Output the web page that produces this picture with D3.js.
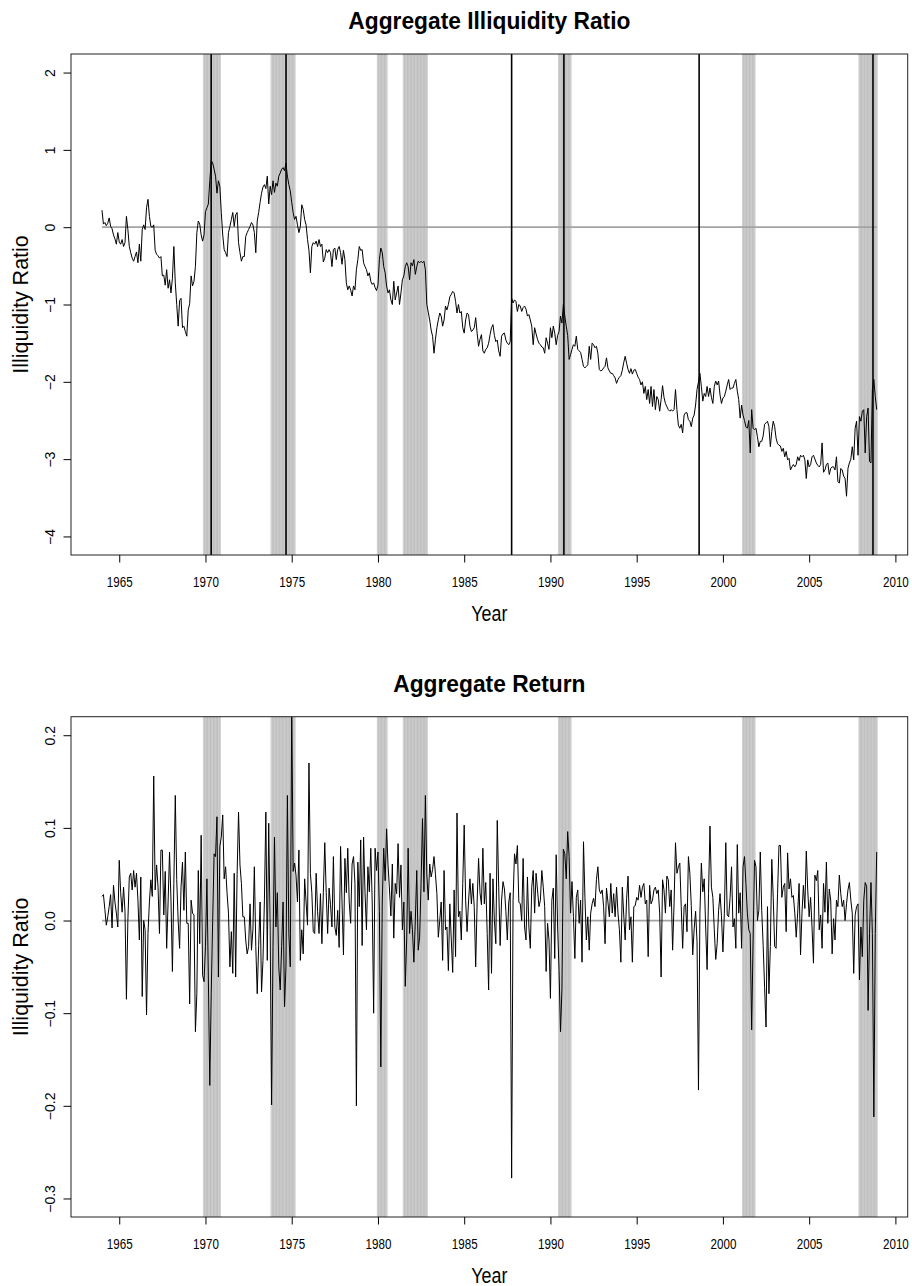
<!DOCTYPE html>
<html>
<head>
<meta charset="utf-8">
<script src="https://cdn.jsdelivr.net/npm/d3@7"></script>
<style>
  body { margin: 0; background: #fff; }
  svg text { font-family: "Liberation Sans", Arial, Helvetica, sans-serif; }
</style>
</head>
<body>
<svg id="chart" width="912" height="1286"></svg>
<script>
// monthly series, first value is Jan 1964
const startYear = 1964;

// aggregate illiquidity ratio, one row per year
const illiq = [
  .22,.04,.06,.02,.05,.12,.01,-.02,-.1,-.15,-.22,-.07,            // 1964
  -.19,-.22,-.16,-.25,-.2,.14,-.03,-.25,-.33,-.4,-.44,-.38,       // 1965
  -.32,-.46,-.22,-.44,-.03,.03,-.03,.25,.36,.14,.01,0,            // 1966
  .03,-.3,-.35,-.37,-.4,-.38,-.63,-.62,-.75,-.55,-.79,-.68,       // 1967
  -.85,-.66,-.25,-.72,-1.0,-1.28,-.95,-.92,-1.3,-1.28,-1.35,-1.41,// 1968
  -1.07,-.99,-.63,-.76,-.7,-.51,-.07,.08,.04,-.1,-.18,-.1,        // 1969
  .2,.25,.3,.6,.86,.83,.75,.66,.44,.6,.53,.19,                    // 1970
  -.1,-.29,-.33,-.38,-.07,.01,.1,.19,.01,.16,.19,-.2,             // 1971
  -.33,-.44,-.38,-.38,-.12,-.07,-.03,.01,.06,.03,-.07,-.33,       // 1972
  .08,.19,.32,.44,.52,.55,.5,.66,.3,.53,.42,.6,                   // 1973
  .45,.57,.53,.66,.7,.75,.77,.73,.83,.66,.55,.47,                 // 1974
  .32,.19,.1,.14,.03,-.07,.01,.29,.23,.1,.03,-.16,                // 1975
  -.3,-.59,-.25,-.2,-.22,-.18,-.25,-.16,-.25,-.22,-.45,-.4,       // 1976
  -.29,-.33,-.29,-.33,-.51,-.29,-.27,-.42,-.29,-.25,-.33,-.48,    // 1977
  -.3,-.42,-.72,-.81,-.76,-.81,-.89,-.76,-.81,-.55,-.42,-.25,     // 1978
  -.3,-.29,-.46,-.51,-.55,-.63,-.59,-.7,-.74,-.72,-.78,-.82,      // 1979
  -.75,-.42,-.27,-.33,-.51,-.59,-.76,-.85,-.81,-.94,-1.0,-.7,     // 1980
  -.94,-.85,-.76,-1.0,-.85,-.68,-.63,-.51,-.46,-.51,-.68,-.46,    // 1981
  -.5,-.42,-.61,-.51,-.44,-.46,-.44,-.46,-.44,-.55,-1.0,-1.1,     // 1982
  -1.2,-1.33,-1.41,-1.63,-1.45,-1.3,-1.2,-1.11,-1.15,-1.28,-1.2,-1.02, // 1983
  -1.07,-1.0,-.9,-.87,-.83,-.85,-.96,-1.11,-1.0,-1.11,-1.09,-1.3, // 1984
  -1.37,-1.2,-1.11,-1.13,-1.28,-1.35,-1.33,-1.3,-1.17,-1.37,-1.54,-1.45, // 1985
  -1.39,-1.6,-1.63,-1.58,-1.56,-1.5,-1.39,-1.3,-1.26,-1.4,-1.48,-1.46,   // 1986
  -1.6,-1.67,-1.41,-1.38,-1.37,-1.46,-1.5,-1.52,-1.48,-.92,-.98,-.94,    // 1987
  -.96,-1.09,-1.0,-1.02,-1.09,-1.04,-1.02,-1.06,-1.15,-1.13,-1.2,-1.28,  // 1988
  -1.52,-1.3,-1.38,-1.45,-1.5,-1.52,-1.55,-1.56,-1.63,-1.43,-1.5,-1.58,  // 1989
  -1.3,-1.43,-1.28,-1.37,-1.52,-1.4,-1.35,-1.15,-1.24,-1.0,-1.15,-1.28,  // 1990
  -1.4,-1.71,-1.65,-1.58,-1.52,-1.54,-1.41,-1.58,-1.6,-1.62,-1.71,-1.8,  // 1991
  -1.82,-1.8,-1.78,-1.54,-1.71,-1.5,-1.52,-1.56,-1.54,-1.63,-1.84,-1.86, // 1992
  -1.85,-1.82,-1.8,-1.69,-1.82,-1.86,-1.89,-1.89,-1.92,-1.95,-2.02,-1.97,// 1993
  -1.94,-1.92,-1.85,-1.75,-1.67,-1.76,-1.84,-1.89,-1.83,-1.9,-1.85,-1.84,// 1994
  -1.89,-1.94,-1.97,-2.04,-2.0,-2.15,-2.06,-2.23,-2.1,-2.28,-2.06,-2.32, // 1995
  -2.1,-2.36,-2.19,-2.23,-2.38,-2.23,-2.05,-2.2,-2.28,-2.32,-2.36,-2.38, // 1996
  -2.36,-2.38,-2.36,-2.1,-2.36,-2.56,-2.6,-2.55,-2.66,-2.43,-2.4,-2.4,   // 1997
  -2.49,-2.51,-2.58,-2.47,-2.43,-2.3,-2.1,-2.0,-1.89,-2.06,-2.25,-2.15,  // 1998
  -2.19,-2.06,-2.19,-2.08,-2.2,-2.28,-2.06,-1.99,-2.04,-1.99,-2.17,-2.28,// 1999
  -2.21,-2.19,-2.12,-2.04,-1.97,-2.1,-2.08,-2.08,-2.02,-1.97,-2.12,-2.23,// 2000
  -2.47,-2.3,-2.43,-2.5,-2.58,-2.6,-2.5,-2.92,-2.36,-2.6,-2.62,-2.6,     // 2001
  -2.71,-2.84,-2.77,-2.77,-2.7,-2.55,-2.53,-2.51,-2.58,-2.84,-2.64,-2.51,// 2002
  -2.58,-2.73,-2.8,-2.82,-2.83,-2.9,-2.86,-2.97,-2.9,-3.01,-2.99,-3.14,  // 2003
  -3.1,-3.07,-3.1,-3.07,-2.97,-3.02,-2.95,-2.97,-2.95,-3.01,-3.25,-3.01, // 2004
  -3.1,-3.07,-2.97,-2.95,-3.0,-3.05,-3.08,-3.1,-3.07,-2.79,-3.17,-3.14,  // 2005
  -3.07,-3.05,-3.2,-3.12,-3.1,-3.1,-3.14,-2.97,-3.29,-3.31,-3.12,-3.14,  // 2006
  -3.22,-3.25,-3.48,-3.12,-3.05,-3.0,-2.84,-3.01,-2.6,-2.51,-2.95,-2.45, // 2007
  -2.51,-2.38,-2.36,-2.92,-2.45,-2.34,-3.03,-3.05,-2.1,-1.97,-2.19,-2.36 // 2008
];

// aggregate return, one row per year
const ret = [
  .026,.028,.012,-.005,.004,.015,.028,-.008,.038,.02,.008,-.007,   // 1964
  .065,.03,.009,.036,.01,-.085,0,.047,.051,.033,.054,.036,         // 1965
  .051,.022,-.021,.047,-.082,0,-.01,-.102,-.014,.02,.044,.026,     // 1966
  .156,.033,.06,.036,-.014,.076,.076,.006,.053,-.03,.02,.074,      // 1967
  .022,-.055,.04,.135,.044,0,-.03,.036,.063,.011,.074,-.003,       // 1968
  -.003,-.09,.022,.008,.006,-.12,-.079,.054,-.025,.092,-.059,-.066,// 1969
  -.028,.045,-.061,-.178,-.079,0,.072,.069,.112,-.061,.08,.09,     // 1970
  .114,.045,.058,.03,.008,-.05,-.012,-.057,.051,-.061,.05,.117,    // 1971
  .06,.04,.004,.004,-.021,-.036,-.028,.018,-.032,-.01,.058,-.028,  // 1972
  -.079,-.027,.02,-.077,-.043,.022,.117,-.043,.105,-.01,-.199,-.028, // 1973
  .09,-.007,.03,-.05,-.075,-.028,.02,-.093,-.05,.135,-.014,-.05,   // 1974
  .23,.053,.062,.049,.02,.076,-.043,-.01,-.036,.045,.02,-.005,     // 1975
  .17,.051,.03,-.012,-.014,.051,.01,-.014,.029,-.025,.03,.084,     // 1976
  .03,-.014,.035,.017,-.007,.069,-.007,-.016,.011,-.029,.08,.02,   // 1977
  -.037,.067,.03,.078,.02,-.003,.061,.069,.04,-.2,.063,.015,       // 1978
  .087,-.027,.09,.03,-.01,.058,.031,.078,.02,-.1,.078,.054,        // 1979
  .074,.01,-.158,.02,.078,.043,.099,.06,.034,.005,.061,-.019,      // 1980
  .04,.029,.083,.025,.06,-.01,.02,-.071,-.02,.078,-.014,.01,       // 1981
  -.01,-.045,0,.054,-.032,-.018,.04,.11,.031,.135,.05,.022,        // 1982
  .061,.047,.055,.069,.05,.029,-.018,0,.02,-.043,.054,-.01,        // 1983
  -.007,-.054,.018,-.02,-.056,.033,-.039,.116,.004,.01,-.021,.04,  // 1984
  .103,.022,-.012,.02,.045,.018,.04,.014,-.05,.02,.067,.03,        // 1985
  .017,.078,.018,.041,-.014,-.075,.051,-.057,.045,0,-.025,.108,    // 1986
  .036,-.027,.022,.042,.034,.01,-.021,.02,.03,-.278,.022,.072,     // 1987
  .061,.081,.02,.018,0,.067,-.007,-.021,.047,-.007,-.03,.036,      // 1988
  .054,.008,.051,.033,.015,.022,.054,.036,.015,-.055,-.003,-.021,  // 1989
  -.084,.022,.035,-.041,.071,-.007,-.054,-.12,-.075,.077,.072,.045,// 1990
  .096,.069,.008,.042,.004,-.041,.025,.033,-.003,.022,-.045,.085,  // 1991
  .025,-.021,.004,-.032,.008,.018,.024,.015,.044,.058,.033,.029,   // 1992
  .033,.015,-.025,.035,.02,.004,.04,.008,.029,.004,.036,.008,      // 1993
  -.01,-.045,.036,.006,-.021,.024,.048,-.01,.004,-.045,.015,.016,  // 1994
  .025,.022,.038,.025,.036,.04,.018,.022,-.039,.038,.018,.022,     // 1995
  .033,.036,.029,.033,.008,-.061,.044,.033,.008,.048,.044,.015,    // 1996
  .033,-.032,.018,.084,.051,.058,.062,.015,-.03,.015,.018,-.012,   // 1997
  .069,.051,.016,-.037,-.009,.01,-.023,-.183,.008,.062,.031,.045,  // 1998
  -.007,-.053,.029,.102,.036,.025,-.01,-.042,-.025,.011,.029,.005, // 1999
  -.034,.008,.084,.006,.004,.025,.058,-.007,.002,-.03,.082,.008,   // 2000
  .03,-.03,.058,.069,.04,.008,-.01,-.014,-.118,-.021,.065,.058,    // 2001
  0,.011,.074,.011,-.027,-.072,-.115,.015,-.079,-.028,.066,.025,   // 2002
  -.028,-.03,.029,.081,.081,.025,.036,.04,-.012,.073,.034,.045,    // 2003
  .025,.027,.008,-.018,.008,.04,-.037,.008,.038,.013,.075,.033,    // 2004
  .004,.025,-.007,-.046,.049,.043,.054,-.01,.006,-.03,.04,.009,    // 2005
  .063,-.003,.034,.022,-.036,.002,-.021,.022,.015,.049,.029,.015,  // 2006
  .022,0,.018,.033,.041,.022,.008,-.057,.006,.015,.018,-.064,      // 2007
  -.007,-.039,.022,.041,.037,-.097,-.014,.041,-.014,-.212,-.014,.074 // 2008
];

// NBER recessions (first and last month), shaded month by month
const recessions = [
  ["1969-12", "1970-11"], ["1973-11", "1975-03"], ["1980-01", "1980-07"],
  ["1981-07", "1982-11"], ["1990-07", "1991-03"], ["2001-03", "2001-11"],
  ["2007-12", "2008-12"]
];

// crisis months marked with black lines on the illiquidity panel
const crisisDates = [1970.33, 1974.67, 1987.75, 1990.78, 1998.62, 2008.70];

const xTicks = [1965, 1970, 1975, 1980, 1985, 1990, 1995, 2000, 2005, 2010];
const illiqTicks = [-4, -3, -2, -1, 0, 1, 2];
const retTicks = [-0.3, -0.2, -0.1, 0, 0.1, 0.2];

const svg = d3.select('#chart');
const left = 71, right = 907.7;
const monthYear = i => startYear + i / 12;
const parseYM = s => { const [yy, mm] = s.split('-').map(Number); return yy + (mm - 1) / 12; };

// R style axis range: data range padded by 4% on each side
const first = monthYear(0), last = monthYear(illiq.length - 1);
const xPad = (last - first) * 0.04;
const x = d3.scaleLinear().domain([first - xPad, last + xPad]).range([left, right]);

// every month inside a recession
const recMonths = [];
recessions.forEach(([s, e]) => {
  const a = Math.round(parseYM(s) * 12), b = Math.round(parseYM(e) * 12);
  for (let m = a; m <= b; m++) recMonths.push(m / 12);
});

function drawPanel(o) {
  const pad = (o.yLim[1] - o.yLim[0]) * 0.04;
  const y = d3.scaleLinear()
    .domain([o.yLim[0] - pad, o.yLim[1] + pad])
    .range([o.bottom, o.top]);

  const g = svg.append('g');
  const clipId = 'clip' + o.name;
  g.append('clipPath').attr('id', clipId)
    .append('rect')
    .attr('x', left).attr('y', o.top)
    .attr('width', right - left).attr('height', o.bottom - o.top);

  const plot = g.append('g').attr('clip-path', `url(#${clipId})`);

  // recession shading, one wide grey line per month (overlaps give the stripes)
  plot.selectAll('line.rec')
    .data(recMonths)
    .join('line')
    .attr('class', 'rec')
    .attr('x1', d => x(d)).attr('x2', d => x(d))
    .attr('y1', o.top).attr('y2', o.bottom)
    .attr('stroke', '#a6a6a6')
    .attr('stroke-opacity', 0.5)
    .attr('stroke-width', 2.2);

  // zero reference line
  plot.append('line')
    .attr('x1', x(first)).attr('x2', x(last))
    .attr('y1', y(0)).attr('y2', y(0))
    .attr('stroke', '#a3a3a3')
    .attr('stroke-width', 1.8);

  if (o.crisis) {
    plot.selectAll('line.crisis')
      .data(crisisDates)
      .join('line')
      .attr('class', 'crisis')
      .attr('x1', d => x(d)).attr('x2', d => x(d))
      .attr('y1', o.top).attr('y2', o.bottom)
      .attr('stroke', '#000')
      .attr('stroke-width', 1.6);
  }

  // the series
  const line = d3.line()
    .x((d, i) => x(monthYear(i)))
    .y(d => y(d));

  plot.append('path')
    .datum(o.values)
    .attr('fill', 'none')
    .attr('stroke', '#000')
    .attr('stroke-width', 1)
    .attr('stroke-linejoin', 'round')
    .attr('d', line);

  // frame
  g.append('rect')
    .attr('x', left).attr('y', o.top)
    .attr('width', right - left).attr('height', o.bottom - o.top)
    .attr('fill', 'none')
    .attr('stroke', '#222')
    .attr('stroke-width', 1);

  // x axis
  const xa = g.append('g')
    .attr('transform', `translate(0,${o.bottom})`)
    .call(d3.axisBottom(x).tickValues(xTicks).tickSize(7.5).tickSizeOuter(0).tickFormat(d3.format('d')));
  xa.select('.domain').remove();
  xa.selectAll('text')
    .attr('y', 32.3).attr('dy', 0)
    .attr('font-size', 14)
    .attr('fill', '#000')
    .attr('transform', 'scale(0.83,1)');

  // y axis with labels parallel to the axis
  const ya = g.append('g')
    .attr('transform', `translate(${left},0)`)
    .call(d3.axisLeft(y).tickValues(o.yTicks).tickSize(7.5).tickFormat(o.fmt));
  ya.select('.domain').remove();
  ya.selectAll('text')
    .attr('transform', 'rotate(-90)')
    .attr('x', 0).attr('y', -16).attr('dy', 0)
    .attr('text-anchor', 'middle')
    .attr('font-size', 14)
    .attr('fill', '#000');

  const cx = (left + right) / 2;

  // title
  g.append('text')
    .attr('transform', `translate(${cx},${o.titleY}) scale(0.93,1)`)
    .attr('text-anchor', 'middle')
    .attr('font-size', 24.5)
    .attr('font-weight', 'bold')
    .text(o.title);

  // axis titles
  g.append('text')
    .attr('transform', `translate(${cx},${o.bottom + 65.7}) scale(0.83,1)`)
    .attr('text-anchor', 'middle')
    .attr('font-size', 21.5)
    .text('Year');

  g.append('text')
    .attr('transform', `translate(28.3,${(o.top + o.bottom) / 2}) rotate(-90)`)
    .attr('text-anchor', 'middle')
    .attr('font-size', 21.5)
    .text('Illiquidity Ratio');
}

drawPanel({
  name: 'illiq', top: 54, bottom: 555, titleY: 29.3,
  title: 'Aggregate Illiquidity Ratio',
  values: illiq, yLim: [-4, 2], yTicks: illiqTicks, fmt: d3.format('d'),
  crisis: true
});

drawPanel({
  name: 'ret', top: 716.7, bottom: 1217, titleY: 691.7,
  title: 'Aggregate Return',
  values: ret, yLim: [-0.3, 0.2], yTicks: retTicks, fmt: d3.format('.1f'),
  crisis: false
});
</script>
</body>
</html>
